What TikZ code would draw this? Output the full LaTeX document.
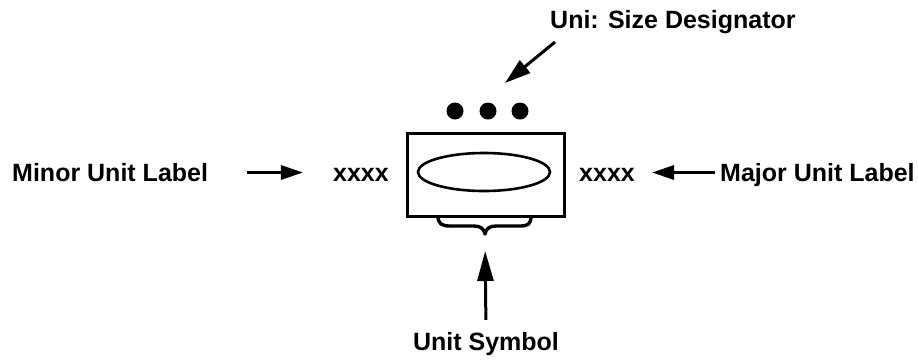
\documentclass[tikz,border=0pt]{standalone}
\usepackage{fontspec}
\setmainfont{Liberation Sans}
\usetikzlibrary{arrows.meta}
\begin{document}
\begin{tikzpicture}[x=1pt,y=-1pt,
  lbl/.style={font=\fontsize{25}{29}\selectfont\bfseries, inner sep=0pt,
              text height=17pt, text depth=0pt, anchor=base},
  arr/.style={line width=3pt, -{Triangle[length=22pt,width=14pt]}},
  frame/.style={draw, line width=3pt, inner sep=0pt}]
  \useasboundingbox (0,0) rectangle (918,360);

  % the unit symbol: box with an ellipse inside
  \node[frame, minimum width=157pt, minimum height=83pt] (box) at (485.5,174.5) {};
  \draw[line width=2.6pt] (box.center) ++(-1.5,-2.5) ellipse [x radius=66pt, y radius=19pt];

  % size designator dots
  \fill (455,111) circle[radius=8.5pt];
  \fill (488,111) circle[radius=8.5pt];
  \fill (520,111) circle[radius=8.5pt];

  % brace under the box
  \draw[line width=3.4pt, line join=round]
    (438,216) .. controls (438,224) and (442,226) .. (450,226) -- (474,226)
    .. controls (481,226) and (484,229) .. (485,234)
    .. controls (486,229) and (489,226) .. (496,226) -- (520,226)
    .. controls (528,226) and (531,224) .. (531,216);
  \coordinate (braceTip) at (485,234);

  % labels
  \node[lbl, anchor=base west] (minor) at (12,181) {Minor Unit Label};
  \node[lbl] (xl) at (361,181) {xxxx};
  \node[lbl] (xr) at (607,181) {xxxx};
  \node[lbl, anchor=base west] (major) at (720,181) {Major Unit Label};
  \node[lbl, anchor=base west] (desig) at (550,28) {Uni: Size Designator};
  \node[lbl] (usym) at (486,350) {Unit Symbol};

  % connectors
  \draw[arr, shorten <=39pt, shorten >=30pt] (minor.east) -- (xl.west);
  \draw[arr, shorten <=5pt, shorten >=17pt] (major.west) -- (xr.east);
  \coordinate (szTail) at (555,42);
  \coordinate (szTip) at (505,83);
  \draw[line width=3pt, -{Triangle[length=26pt,width=16pt]}] (szTail) -- (szTip);
  \draw[line width=3pt, -{Triangle[length=30pt,width=16pt]}, shorten <=13pt, shorten >=17pt]
    (usym.north) -- (braceTip);
\end{tikzpicture}
\end{document}
